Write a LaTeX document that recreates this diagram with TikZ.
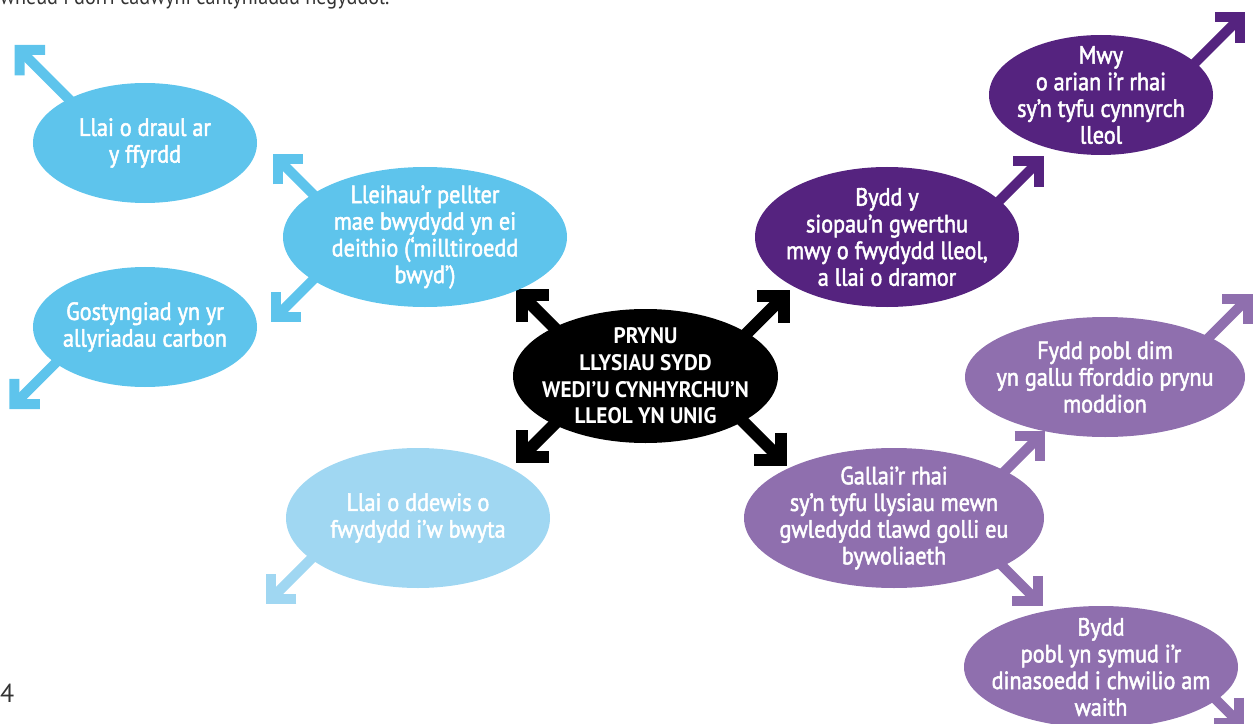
\documentclass[tikz,border=0pt]{standalone}
\usepackage{fontspec}
\setmainfont{PT Sans}
\newfontfamily\diag{PT Sans}[FakeStretch=0.89, FakeBold=2]
\newfontfamily\diagc{PT Sans}[FakeStretch=0.95]
\newfontfamily\plain{PT Sans}[FakeStretch=0.92]
\usetikzlibrary{arrows.meta,shapes.geometric,backgrounds}
\definecolor{cblue}{HTML}{5EC4EC}
\definecolor{clblue}{HTML}{A0D7F2}
\definecolor{cdpurp}{HTML}{55237F}
\definecolor{clpurp}{HTML}{8F6FAE}
\definecolor{ctext}{HTML}{333333}
\begin{document}
\begin{tikzpicture}[x=1bp,y=-1bp,
  bub/.style={ellipse, fill=#1, draw=none, inner sep=0pt},
  btxt/.style={text=white, align=center, inner sep=0pt, font=\diag\fontsize{25}{26.8}\selectfont},
  ctxt/.style={text=white, align=center, inner sep=0pt, font=\diagc\bfseries\fontsize{22.5}{26.8}\selectfont},
  arr/.style={draw=#1, line width=10bp, shorten <=-14bp, -{Straight Barb[length=18bp 0 0, width=36bp 0 0]}},
  barr/.style={draw=black, line width=12bp, shorten <=-14bp, -{Straight Barb[length=19bp 0 0, width=38bp 0 0]}}]
\useasboundingbox (0,0) rectangle (1255,724);
\clip (0,0) rectangle (1255,724);

% top clipped line and page number
\node[anchor=base west, inner sep=0pt, text=ctext, font=\plain\fontsize{22}{26}\selectfont] (top) at (0,5) {wneud i dorri cadwyni canlyniadau negyddol.};
\node[anchor=base west, inner sep=0pt, text=ctext, font=\fontsize{26}{30}\selectfont] (pg) at (0,702) {4};

% ellipses
\node[bub=cblue, minimum width=224bp, minimum height=120bp] (e1) at (145,143) {};
\node[bub=cblue, minimum width=224bp, minimum height=120bp] (e2) at (145,327) {};
\node[bub=cblue, minimum width=284bp, minimum height=140bp] (e3) at (425,237) {};
\node[bub=clblue, minimum width=264bp, minimum height=140bp] (e4) at (418,518) {};
\node[bub=black, minimum width=265bp, minimum height=134bp] (c) at (645.5,376) {};
\node[bub=cdpurp, minimum width=264bp, minimum height=140bp] (e5) at (887,237) {};
\node[bub=cdpurp, minimum width=224bp, minimum height=120bp] (e6) at (1101,95) {};
\node[bub=clpurp, minimum width=280bp, minimum height=120bp] (e7) at (1105,377) {};
\node[bub=clpurp, minimum width=300bp, minimum height=140bp] (e8) at (894,518) {};
\node[bub=clpurp, minimum width=274bp, minimum height=122bp] (e9) at (1101,667) {};

% texts
\node[btxt] (t1) at (e1.center) {Llai o draul ar\\y ffyrdd};
\node[btxt] (t2) at (e2.center) {Gostyngiad yn yr\\allyriadau carbon};
\node[btxt] (t3) at (e3.center) {Lleihau’r pellter\\mae bwydydd yn ei\\deithio (‘milltiroedd\\bwyd’)};
\node[btxt] (t4) at (e4.center) {Llai o ddewis o\\fwydydd i’w bwyta};
\node[ctxt] (tc) at (c.center) {PRYNU\\LLYSIAU SYDD\\WEDI’U CYNHYRCHU’N\\LLEOL YN UNIG};
\node[btxt] (t5) at (e5.center) {Bydd y\\siopau’n gwerthu\\mwy o fwydydd lleol,\\a llai o dramor};
\node[btxt] (t6) at (e6.center) {Mwy\\o arian i’r rhai\\sy’n tyfu cynnyrch\\lleol};
\node[btxt] (t7) at (e7.center) {Fydd pobl dim\\yn gallu fforddio prynu\\moddion};
\node[btxt] (t8) at (e8.center) {Gallai’r rhai\\sy’n tyfu llysiau mewn\\gwledydd tlawd golli eu\\bywoliaeth};
\node[btxt] (t9) at (e9.center) {Bydd\\pobl yn symud i’r\\dinasoedd i chwilio am\\waith};

% arrows
\begin{scope}[on background layer]
\draw[arr=cblue] (e1.150) -- ++(-54,-54);
\draw[arr=cblue] (e2.202.5) -- ++(-46,46);
\draw[arr=cblue] (e3.159.5) -- ++(-40,-40);
\draw[arr=cblue] (e3.201.6) -- ++(-42,42);
\draw[arr=clblue] (e4.201.6) -- ++(-45,45);
\draw[barr] (c.152.6) -- ++(-38,-38);
\draw[barr] (c.208.4) -- ++(-38,38);
\draw[barr] (c.23.6) -- ++(43,-43);
\draw[barr] (c.335.8) -- ++(44,44);
\draw[arr=cdpurp] (e5.18.6) -- ++(44,-44);
\draw[arr=cdpurp] (e6.19.3) -- ++(50,-50);
\draw[arr=clpurp] (e7.21.1) -- ++(43,-43);
\draw[arr=clpurp] (e8.23.8) -- ++(40,-40);
\draw[arr=clpurp] (e8.336.2) -- ++(40,40);
\draw[arr=clpurp] (e9.344.8) -- ++(28,28);
\end{scope}
\end{tikzpicture}
\end{document}
